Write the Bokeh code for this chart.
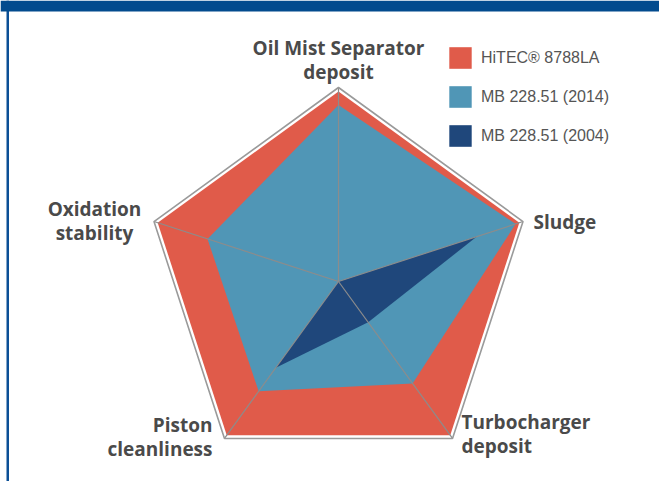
import math
from bokeh.plotting import figure
from bokeh.models import Range1d, Legend, LegendItem, BoxAnnotation
from bokeh.core.properties import value
from bokeh.embed import file_html
from bokeh.resources import INLINE

# ---- data ----
axes_labels = ["Oil Mist Separator\ndeposit", "Sludge", "Turbocharger\ndeposit",
               "Piston\ncleanliness", "Oxidation\nstability"]
hitec_8788la = [98, 98, 98, 98, 98]
mb_2014 = [91, 96, 65, 70, 71]
mb_2004 = [0, 75, 26, 55, 0]
scale_max = 100
series_names = ["HiTEC\u00ae 8788LA", "MB 228.51 (2014)", "MB 228.51 (2004)"]
series_colors = ["#E05B4A", "#5096B6", "#1F477B"]

# ---- layout ----
W, H = 659, 481
PX = 1.94            # pixels per value unit
CX, CY = 338, 281    # centre in figure pixels
x0, x1 = -CX / PX, (W - CX) / PX
y0, y1 = -(H - CY) / PX, CY / PX

p = figure(width=W, height=H, output_backend="svg", toolbar_location=None,
           x_range=Range1d(x0, x1), y_range=Range1d(y0, y1),
           min_border=0, outline_line_color=None)
p.axis.visible = False
p.grid.visible = False
p.background_fill_color = "white"
p.border_fill_color = "white"

n = len(axes_labels)
angles = [math.pi / 2 - 2 * math.pi * i / n for i in range(n)]

def poly(vals):
    return ([v * math.cos(a) for v, a in zip(vals, angles)],
            [v * math.sin(a) for v, a in zip(vals, angles)])

renderers = []
for vals, name, col in zip([hitec_8788la, mb_2014, mb_2004], series_names, series_colors):
    xs, ys = poly(vals)
    r = p.patch(xs, ys, fill_color=col, line_color=None)
    renderers.append((name, r))

# spokes
ox, oy = poly([scale_max] * n)
p.segment(x0=[0] * n, y0=[0] * n, x1=ox, y1=oy, line_color="#8C8C8C", line_width=1.2)
# outline
p.patch(ox + [ox[0]], oy + [oy[0]], fill_color=None, line_color="#9A9A9A", line_width=1.6)

# labels (page px anchors -> data)
def d(px, py):
    return (px - CX) / PX, (CY - py) / PX

label_anchor = [(338, 47, "center"), (533, 221, "left"), (461, 421, "left"),
                (212, 424, "right"), (94, 208, "center")]
line_gap = 24
for text, (ax, ay, al) in zip(axes_labels, label_anchor):
    for k, line in enumerate(text.split("\n")):
        tx, ty = d(ax, ay + k * line_gap)
        p.text(x=[tx], y=[ty], text=[line], text_font=value("Open Sans"),
               text_font_style="bold", text_font_size="19px", text_color="#4A4A4A",
               text_align=al, text_baseline="alphabetic")

# frame decorations
p.add_layout(BoxAnnotation(left=x0 + 6 / PX, right=x0 + 8.5 / PX, bottom=y0, top=y1,
                           fill_color="#0B4F96", fill_alpha=1, line_color=None))
p.add_layout(BoxAnnotation(left=x0, right=x1, bottom=y1 - 11 / PX, top=y1,
                           fill_color="#024B8E", fill_alpha=1, line_color=None))

legend = Legend(items=[LegendItem(label=nm, renderers=[r]) for nm, r in renderers],
                location=(446, 332), orientation="vertical",
                glyph_width=28, glyph_height=27, label_height=27, spacing=12,
                label_standoff=7, padding=0, margin=0,
                border_line_color=None, background_fill_alpha=0,
                label_text_font="Liberation Sans", label_text_font_size="16px",
                label_text_color="#555555")
p.add_layout(legend, "center")

open("out.html", "w").write(file_html(p, INLINE))
